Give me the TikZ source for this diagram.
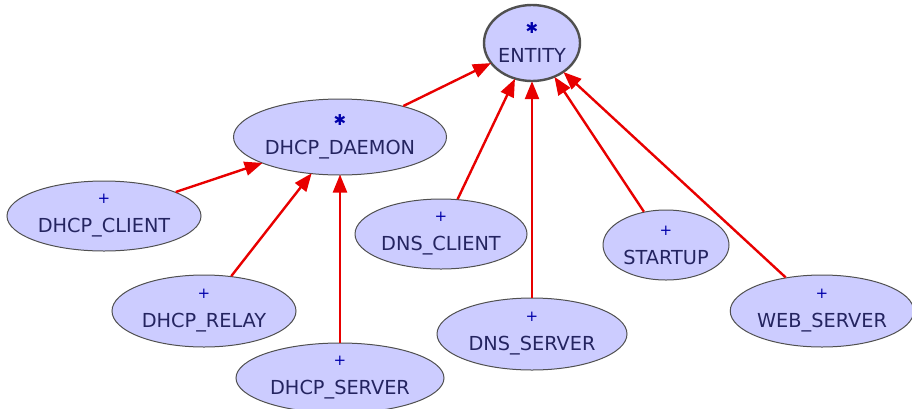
\documentclass[tikz,border=0pt]{standalone}
\usepackage{fontspec}
\setmainfont{DejaVu Sans}
\usetikzlibrary{shapes.geometric,arrows.meta}

\definecolor{nodefill}{RGB}{204,204,255}
\definecolor{nodeline}{RGB}{80,80,80}
\definecolor{nodetext}{RGB}{36,36,96}
\definecolor{marktext}{RGB}{0,0,170}
\definecolor{inherit}{RGB}{232,0,0}

\newcommand{\abstractmark}{{\fontsize{15}{15}\selectfont\textcolor{marktext}{✱}}}
\newcommand{\concretemark}{{\fontsize{15}{15}\selectfont\textcolor{marktext}{+}}}

\tikzset{
  cls/.style={ellipse, draw=nodeline, line width=1pt, fill=nodefill, inner sep=0pt,
    text=nodetext, align=center, font=\fontsize{19.3}{29}\selectfont},
  rootcls/.style={cls, line width=2.4pt},
  isa/.style={draw=inherit, line width=2.4pt,
    -{Triangle[length=18pt,width=14pt]}, shorten >=-1pt},
}

\begin{document}
\begin{tikzpicture}[x=1pt,y=-1pt]
\useasboundingbox (0,0) rectangle (912,408);

\node[rootcls, minimum width=96pt, minimum height=76pt] (entity) at (532,43)
  {\abstractmark\\ENTITY};
\node[cls, minimum width=213pt, minimum height=76pt] (daemon) at (340,137)
  {\abstractmark\\DHCP\_DAEMON};
\node[cls, minimum width=194pt, minimum height=70pt] (dclient) at (104,216)
  {\concretemark\\DHCP\_CLIENT};
\node[cls, minimum width=184pt, minimum height=72pt] (drelay) at (204,311)
  {\concretemark\\DHCP\_RELAY};
\node[cls, minimum width=208pt, minimum height=70pt] (dserver) at (340,378)
  {\concretemark\\DHCP\_SERVER};
\node[cls, minimum width=172pt, minimum height=70pt] (nclient) at (441,234)
  {\concretemark\\DNS\_CLIENT};
\node[cls, minimum width=190pt, minimum height=72pt] (nserver) at (532,334)
  {\concretemark\\DNS\_SERVER};
\node[cls, minimum width=126pt, minimum height=70pt] (startup) at (666,245)
  {\concretemark\\STARTUP};
\node[cls, minimum width=180pt, minimum height=72pt] (web) at (822,311)
  {\concretemark\\WEB\_SERVER};

\draw[isa] (daemon) -- (entity);
\draw[isa] (dclient) -- (daemon);
\draw[isa] (drelay) -- (daemon);
\draw[isa] (dserver) -- (daemon);
\draw[isa] (nclient) -- (entity);
\draw[isa] (nserver) -- (entity);
\draw[isa] (startup) -- (entity);
\draw[isa] (web) -- (entity);
\end{tikzpicture}
\end{document}
